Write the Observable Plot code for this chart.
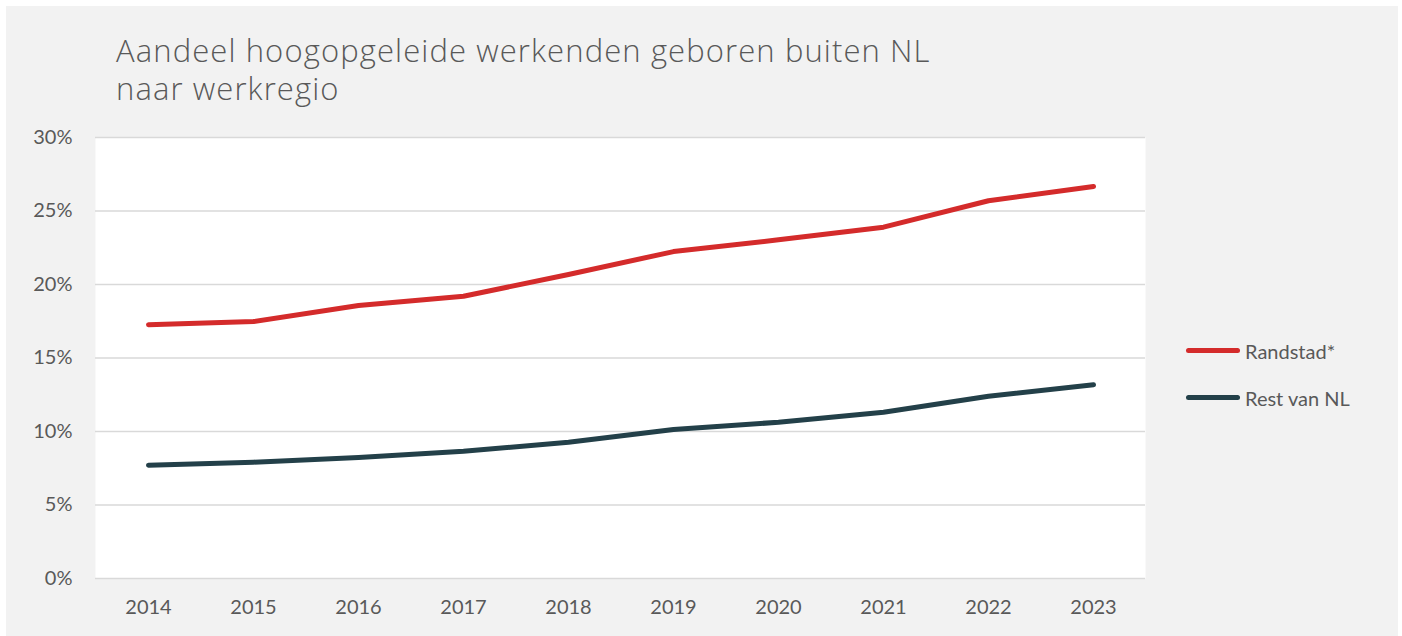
<!DOCTYPE html>
<html>
<head>
<meta charset="utf-8">
<script src="https://cdn.jsdelivr.net/npm/d3@7"></script>
<script src="https://cdn.jsdelivr.net/npm/@observablehq/plot@0.6"></script>
<style>
  html, body { margin: 0; padding: 0; background: #ffffff; }
  #panel { position: absolute; left: 6px; top: 6px; width: 1392px; height: 630px; background: #f2f2f2; font-family: Lato, "Open Sans", sans-serif; }
  #title { position: absolute; left: 110px; top: 25px; font-family: "Open Sans", Lato, sans-serif; font-size: 31px; letter-spacing: 1.1px; font-weight: 300; color: #595959; line-height: 38px; }
  #chart { position: absolute; left: 0; top: 114px; }
  #legend { position: absolute; left: 1180px; top: 321px; font-size: 20px; color: #595959; }
  .item { display: flex; align-items: center; height: 47px; }
  .swatch { width: 54px; height: 5px; border-radius: 3px; margin-right: 5px; }
</style>
</head>
<body>
<div id="panel">
  <div id="title">Aandeel hoogopgeleide werkenden geboren buiten NL<br>naar werkregio</div>
  <div id="chart"></div>
  <div id="legend"></div>
</div>
<script>
const years = ["2014","2015","2016","2017","2018","2019","2020","2021","2022","2023"];
const seriesNames = ["Randstad*", "Rest van NL"];
const randstad = [17.26, 17.48, 18.57, 19.2, 20.68, 22.24, 23.04, 23.9, 25.7, 26.67];
const restVanNL = [7.71, 7.91, 8.23, 8.66, 9.27, 10.14, 10.63, 11.31, 12.4, 13.18];
const yTicks = [0, 5, 10, 15, 20, 25, 30];
const colors = ["#d42b2b", "#234049"];

const data = [];
years.forEach((y, i) => {
  data.push({year: y, series: seriesNames[0], value: randstad[i]});
  data.push({year: y, series: seriesNames[1], value: restVanNL[i]});
});

const chart = Plot.plot({
  width: 1392,
  height: 510,
  marginTop: 17,
  marginBottom: 52,
  marginLeft: 89,
  marginRight: 253,
  style: {background: "transparent", fontFamily: "Lato, 'Open Sans', sans-serif", fontSize: "20px", color: "#595959"},
  x: {type: "point", domain: years, padding: 0.5, label: null, tickSize: 0, tickPadding: 21},
  y: {domain: [0, 30], ticks: yTicks, tickFormat: d => d + "%", label: null, tickSize: 0, tickPadding: 23},
  color: {domain: seriesNames, range: colors},
  marks: [
    Plot.frame({fill: "#ffffff", stroke: null}),
    Plot.ruleY(yTicks, {stroke: "#d9d9d9", strokeWidth: 1.5}),
    Plot.axisY({ticks: yTicks, tickFormat: d => d + "%", tickSize: 0, tickPadding: 23, label: null, fontSize: 20}),
    Plot.axisX({tickSize: 0, tickPadding: 21, label: null, fontSize: 20}),
    Plot.line(data, {x: "year", y: "value", z: "series", stroke: "series", strokeWidth: 5, strokeLinecap: "round", strokeLinejoin: "round"})
  ]
});
document.getElementById("chart").appendChild(chart);

const legend = document.getElementById("legend");
seriesNames.forEach((name, i) => {
  const item = document.createElement("div");
  item.className = "item";
  item.innerHTML = `<div class="swatch" style="background:${colors[i]}"></div><span>${name}</span>`;
  legend.appendChild(item);
});
</script>
</body>
</html>
